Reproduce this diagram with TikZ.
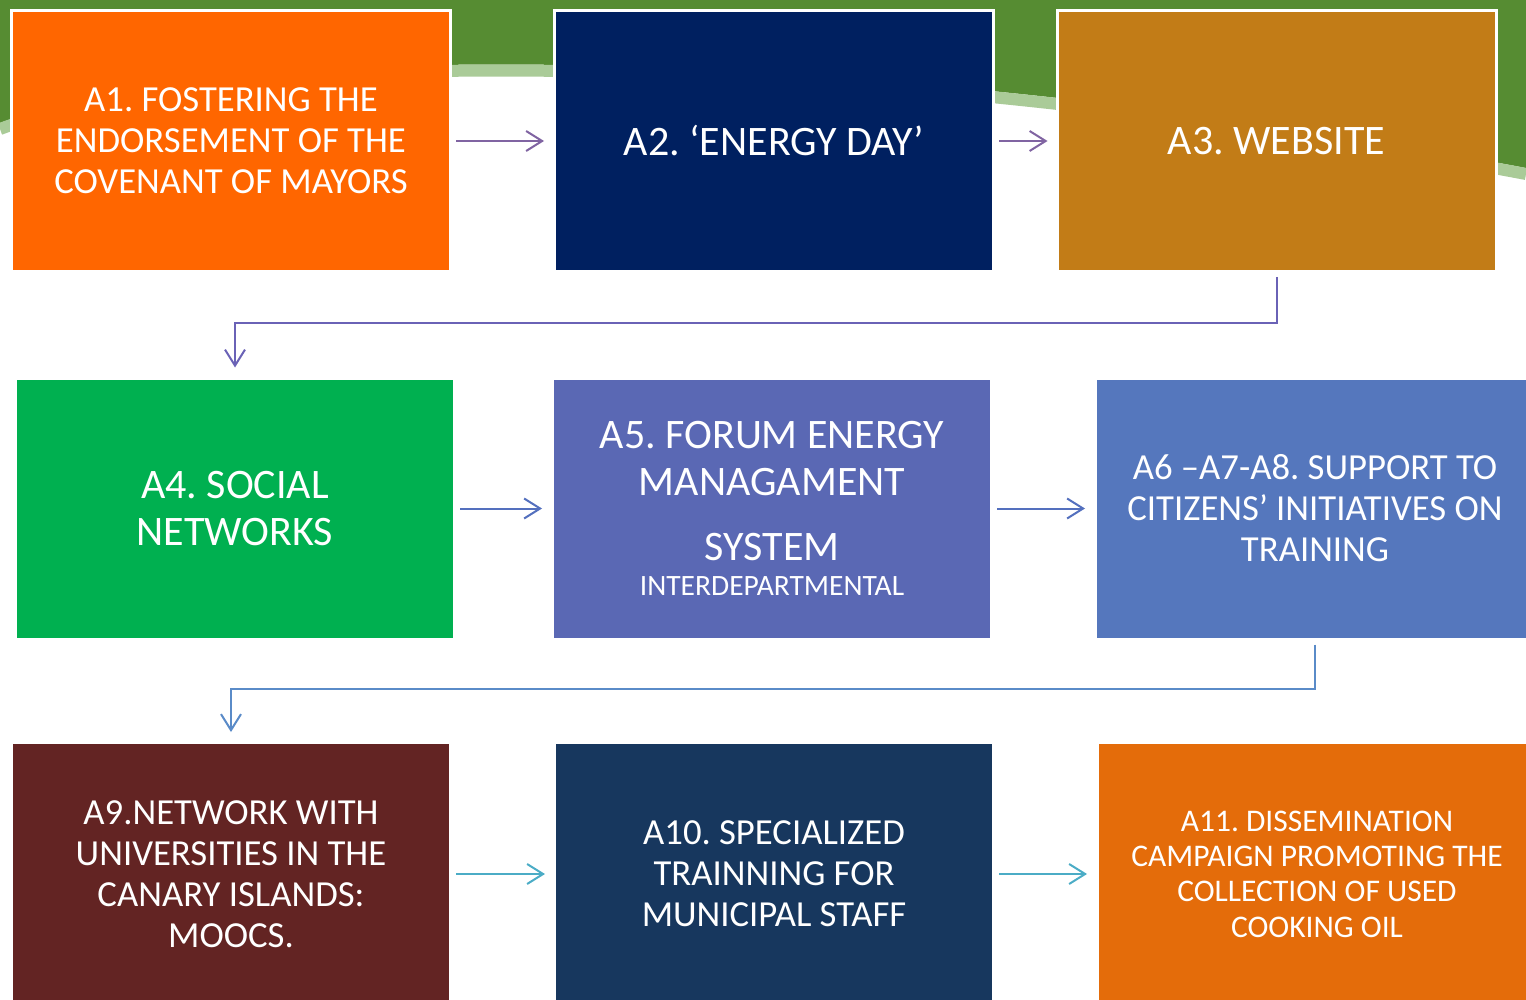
\documentclass[tikz,border=0pt]{standalone}
\usepackage{fontspec}
\setmainfont{Carlito}
\usetikzlibrary{arrows.meta}
\frenchspacing

\definecolor{topgreen}{HTML}{568C32}
\definecolor{paleband}{HTML}{AACB98}
\definecolor{aorange}{HTML}{FF6600}
\definecolor{anavy}{HTML}{002060}
\definecolor{aochre}{HTML}{C27C17}
\definecolor{agreen}{HTML}{00B050}
\definecolor{aviolet}{HTML}{5A68B4}
\definecolor{ablue}{HTML}{5577BD}
\definecolor{amaroon}{HTML}{632423}
\definecolor{adeep}{HTML}{17375E}
\definecolor{arust}{HTML}{E46C0A}
\definecolor{purpleline}{HTML}{8064A2}
\definecolor{slateline}{HTML}{6A62B6}
\definecolor{blueline}{HTML}{5470BE}
\definecolor{skyline}{HTML}{5A8BC8}
\definecolor{tealline}{HTML}{4BACC6}

\begin{document}
\begin{tikzpicture}[x=1pt,y=-1pt,
  box/.style={rectangle,draw=white,line width=3pt,minimum width=439pt,
    minimum height=261pt,text=white,align=center,inner sep=0pt},
  flow/.style={line width=2pt,-{Straight Barb[length=16pt,width=20pt]}}]
\clip (0,0) rectangle (1526,1000);

% green band behind the top row
\fill[topgreen] (0,0) -- (1526,0) -- (1526,168)
  .. controls (900,50) and (250,30) .. (0,123) -- cycle;
\draw[paleband,line width=12pt] (1526,174)
  .. controls (900,56) and (250,36) .. (0,129);

% first row
\node[box,fill=aorange,font=\fontsize{36.7}{41}\selectfont] (A1) at (231,141)
  {A1. FOSTERING THE\\ENDORSEMENT OF THE\\COVENANT OF MAYORS};
\node[box,fill=anavy,font=\fontsize{42}{47}\selectfont] (A2) at (774,141)
  {A2. ‘ENERGY DAY’};
\node[box,fill=aochre,font=\fontsize{42}{47}\selectfont] (A3) at (1276.5,141)
  {A3. WEBSITE};

% second row
\node[box,fill=agreen,font=\fontsize{42}{47}\selectfont] (A4) at (235,508.5)
  {A4. SOCIAL\\NETWORKS};
\node[box,fill=aviolet,font=\fontsize{42}{47}\selectfont] (A5) at (772,508.5)
  {A5. FORUM ENERGY\\MANAGAMENT\\[18pt]SYSTEM\\[-12pt]{\fontsize{29.5}{34}\selectfont INTERDEPARTMENTAL}};
\node[box,fill=ablue,font=\fontsize{36.7}{41}\selectfont] (A6) at (1315,508.5)
  {A6 –A7-A8. SUPPORT TO\\CITIZENS’ INITIATIVES ON\\TRAINING};

% third row
\node[box,minimum height=263pt,fill=amaroon,font=\fontsize{36.7}{41}\selectfont] (A9) at (231,874)
  {A9.NETWORK WITH\\UNIVERSITIES IN THE\\CANARY ISLANDS:\\MOOCS.};
\node[box,minimum height=263pt,fill=adeep,font=\fontsize{36.7}{41}\selectfont] (A10) at (774,874)
  {A10. SPECIALIZED\\TRAINNING FOR\\MUNICIPAL STAFF};
\node[box,minimum height=263pt,fill=arust,font=\fontsize{31.5}{35.3}\selectfont] (A11) at (1317,874)
  {A11. DISSEMINATION\\CAMPAIGN PROMOTING THE\\COLLECTION OF USED\\COOKING OIL};

% arrows
\draw[flow,purpleline] ([xshift=4pt]A1.east) -- ([xshift=-9pt]A2.west);
\draw[flow,purpleline] ([xshift=4pt]A2.east) -- ([xshift=-8pt]A3.west);
\draw[flow,slateline] ([yshift=-4pt]A3.south) -- ++(0,46) -| ([yshift=9pt]A4.north);
\draw[flow,blueline] ([xshift=4pt]A4.east) -- ([xshift=-9pt]A5.west);
\draw[flow,blueline] ([xshift=4pt]A5.east) -- ([xshift=-9pt]A6.west);
\draw[flow,skyline] ([yshift=-4pt]A6.south) -- ++(0,44) -| ([yshift=9pt]A9.north);
\draw[flow,tealline] ([xshift=4pt]A9.east) -- ([xshift=-8pt]A10.west);
\draw[flow,tealline] ([xshift=4pt]A10.east) -- ([xshift=-9pt]A11.west);
\end{tikzpicture}
\end{document}
